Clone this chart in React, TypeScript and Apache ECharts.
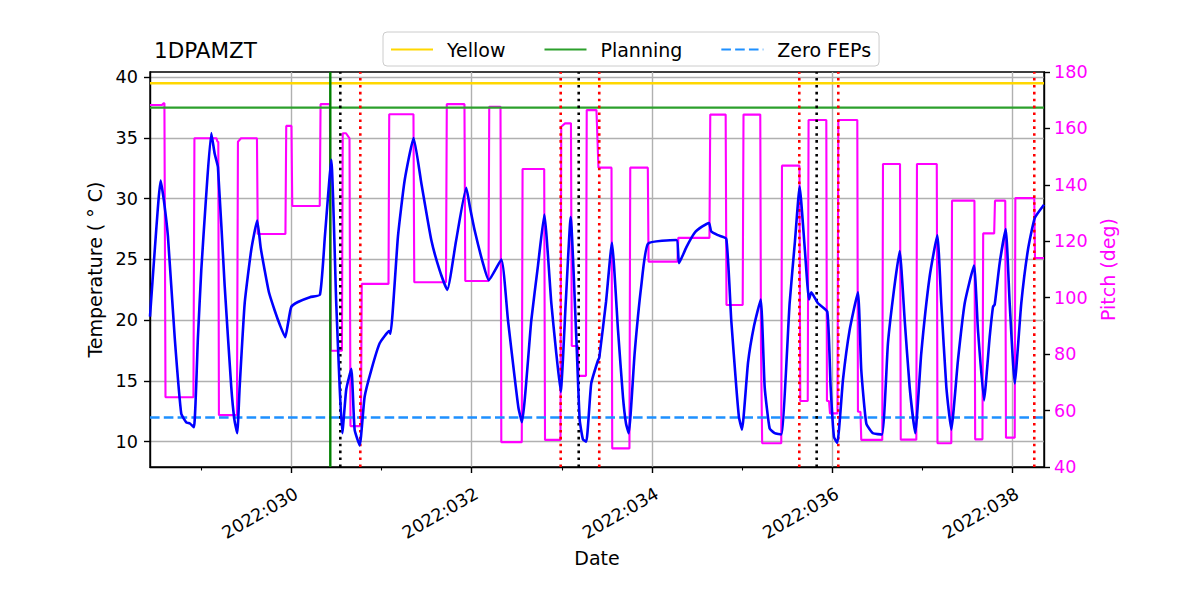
import React, { useEffect, useRef } from "react";
import * as echarts from "echarts";

// ---- data (day of year 2022) ----
const TEMP_DAYS = [
  28.430, 28.485, 28.548, 28.585, 28.629, 28.704, 28.777, 28.832, 28.873, 28.918,
  28.962, 28.999, 29.051, 29.110, 29.148, 29.184, 29.259, 29.332, 29.367, 29.398,
  29.425, 29.481, 29.554, 29.620, 29.658, 29.703, 29.750, 29.814, 29.872, 29.931,
  29.961, 29.998, 30.072, 30.205, 30.316, 30.372, 30.442, 30.497, 30.535, 30.564,
  30.608, 30.664, 30.701, 30.757, 30.812, 30.886, 30.979, 31.085, 31.099, 31.182,
  31.256, 31.356, 31.441, 31.552, 31.645, 31.729, 31.826, 31.940, 31.981, 32.033,
  32.125, 32.189, 32.329, 32.403, 32.477, 32.519, 32.558, 32.662, 32.736, 32.806,
  32.884, 32.936, 32.988, 33.043, 33.099, 33.161, 33.199, 33.235, 33.272, 33.327,
  33.402, 33.416, 33.491, 33.557, 33.624, 33.679, 33.713, 33.743, 33.809, 33.882,
  33.957, 34.271, 34.301, 34.382, 34.475, 34.556, 34.634, 34.659, 34.734, 34.826,
  34.881, 34.937, 34.967, 35.000, 35.067, 35.133, 35.208, 35.252, 35.307, 35.363,
  35.436, 35.529, 35.588, 35.640, 35.696, 35.744, 35.769, 35.843, 35.947, 35.984,
  36.021, 36.058, 36.121, 36.195, 36.287, 36.324, 36.380, 36.454, 36.554, 36.620,
  36.687, 36.750, 36.806, 36.861, 36.923, 36.990, 37.083, 37.168, 37.212, 37.268,
  37.323, 37.397, 37.472, 37.575, 37.619, 37.686, 37.749, 37.786, 37.805, 37.860,
  37.927, 37.971, 38.027, 38.100, 38.174, 38.249, 38.352,
];
const TEMP_VALUES = [
  20.3, 26.0, 31.5, 29.8, 26.9, 18.6, 12.3, 11.6, 11.5, 11.2,
  18.6, 24.1, 30.0, 35.4, 33.7, 32.6, 22.8, 14.5, 11.8, 10.7,
  14.5, 21.4, 25.8, 28.2, 26.0, 24.1, 22.3, 20.8, 19.6, 18.6,
  19.7, 21.1, 21.5, 21.9, 22.1, 27.0, 33.2, 21.4, 14.5, 10.7,
  14.3, 16.0, 11.0, 9.7, 13.7, 15.9, 18.1, 19.1, 18.9, 26.9,
  31.5, 35.0, 31.3, 26.6, 24.1, 22.5, 26.5, 30.9, 29.3, 27.4,
  24.7, 23.3, 25.0, 20.0, 15.3, 12.8, 11.6, 20.0, 24.5, 28.7,
  21.4, 17.5, 14.1, 21.3, 28.5, 18.6, 11.8, 10.2, 10.0, 14.8,
  16.7, 16.9, 21.5, 26.4, 19.2, 13.7, 11.5, 10.7, 17.3, 22.8,
  26.3, 26.6, 24.7, 26.0, 27.2, 27.7, 28.0, 27.3, 27.0, 26.7,
  20.0, 14.5, 12.0, 11.0, 16.5, 19.5, 21.7, 14.5, 11.1, 10.7,
  10.6, 21.4, 26.5, 31.0, 26.0, 21.7, 22.3, 21.4, 20.7, 14.5,
  10.4, 9.9, 15.1, 19.2, 22.3, 15.9, 11.5, 10.7, 10.6, 18.1,
  22.5, 25.7, 20.0, 14.5, 10.7, 17.3, 23.6, 27.0, 21.4, 14.5,
  11.0, 16.7, 21.4, 24.5, 19.2, 13.4, 18.6, 21.1, 21.3, 24.7,
  27.5, 21.4, 14.8, 21.4, 25.8, 28.4, 29.5,
];

const PITCH_DAYS = [
  28.430, 28.563, 28.579, 28.590, 28.602, 28.912, 28.923, 29.168, 29.179, 29.188,
  29.195, 29.395, 29.406, 29.440, 29.617, 29.626, 29.933, 29.942, 30.000, 30.009,
  30.314, 30.323, 30.427, 30.436, 30.560, 30.569, 30.605, 30.644, 30.655, 30.771,
  30.780, 31.077, 31.085, 31.354, 31.363, 31.715, 31.724, 31.920, 31.929, 32.187,
  32.195, 32.320, 32.329, 32.556, 32.565, 32.805, 32.814, 32.986, 32.994, 33.036,
  33.102, 33.111, 33.180, 33.186, 33.269, 33.277, 33.385, 33.407, 33.552, 33.560,
  33.751, 33.760, 33.955, 33.963, 34.284, 34.293, 34.639, 34.648, 34.819, 34.828,
  35.008, 35.017, 35.203, 35.211, 35.224, 35.436, 35.444, 35.638, 35.647, 35.730,
  35.739, 35.936, 35.943, 35.966, 35.977, 36.060, 36.069, 36.280, 36.287, 36.315,
  36.324, 36.557, 36.565, 36.754, 36.762, 36.935, 36.942, 37.162, 37.170, 37.323,
  37.331, 37.580, 37.588, 37.669, 37.677, 37.799, 37.808, 37.922, 37.930, 38.027,
  38.034, 38.244, 38.252, 38.352,
];
const PITCH_VALUES = [
  168.3, 168.3, 168.9, 168.9, 64.7, 64.7, 156.5, 156.5, 155.3, 155.3,
  58.4, 58.4, 155.3, 156.5, 156.5, 122.6, 122.6, 160.9, 160.9, 132.5,
  132.5, 168.6, 168.6, 81.2, 81.2, 158.3, 158.3, 156.5, 54.5, 54.5,
  104.9, 104.9, 165.0, 165.0, 105.5, 105.5, 168.6, 168.6, 105.9, 105.9,
  167.7, 167.7, 48.8, 48.8, 145.6, 145.6, 49.6, 49.6, 160.6, 161.8,
  161.8, 82.9, 82.9, 72.3, 72.3, 166.5, 166.5, 146.1, 146.1, 46.6,
  46.6, 146.1, 146.1, 112.8, 112.8, 121.2, 121.2, 164.9, 164.9, 97.4,
  97.4, 164.9, 164.9, 82.6, 48.4, 48.4, 146.8, 146.8, 63.4, 63.4,
  163.0, 163.0, 63.4, 63.4, 59.0, 59.0, 163.0, 163.0, 59.6, 59.6,
  49.6, 49.6, 147.4, 147.4, 49.7, 49.7, 147.4, 147.4, 48.4, 48.4,
  134.4, 134.4, 49.8, 49.8, 122.8, 122.8, 134.4, 134.4, 50.4, 50.4,
  135.3, 135.3, 114.1, 114.1,
];

const LIMIT_NAMES = ["Yellow", "Planning", "Zero FEPs"];
const LIMIT_VALUES = [39.5, 37.5, 12.0];

const PLANNING_DAY = 30.431;
const BLACK_DAYS = [30.542, 33.188, 35.829];
const RED_DAYS = [30.764, 32.988, 33.416, 35.636, 36.069, 38.244];

const X_MIN = 28.43;
const X_MAX = 38.352;
const X_TICKS = [30, 32, 34, 36, 38];
const X_MINOR_TICKS = [29, 31, 33, 35, 37];
const TEMP_MIN = 7.92;
const TEMP_MAX = 40.43;
const TEMP_TICKS = [10, 15, 20, 25, 30, 35, 40];
const PITCH_MIN = 40;
const PITCH_MAX = 180;
const PITCH_STEP = 20;

const FONT = "DejaVu Sans";
const FS_NUM = 17.6; // tick numbers
const FS_WORD = 19; // words (legend, axis names)

export default function App() {
  const ref = useRef<HTMLDivElement>(null);

  useEffect(() => {
    if (!ref.current) return;
    const chart = echarts.init(ref.current, null, { renderer: "svg" });

    const limitStyles = [
      { color: "#FFD700", type: "solid" },
      { color: "#2ca02c", type: "solid" },
      { color: "#1E90FF", type: [9.6, 4.2] },
    ];

    const limitSeries = LIMIT_NAMES.map((name, i) => ({
      name,
      type: "line",
      xAxisIndex: 0,
      yAxisIndex: 0,
      symbol: "none",
      silent: true,
      z: 3,
      lineStyle: { color: limitStyles[i].color, width: 2.4, type: limitStyles[i].type },
      itemStyle: { color: limitStyles[i].color, opacity: 0 },
      data: [
        [X_MIN, LIMIT_VALUES[i]],
        [X_MAX, LIMIT_VALUES[i]],
      ],
    }));

    const vline = (day: number, color: string, type: any, width: number, id: string) => ({
      name: id,
      type: "line",
      xAxisIndex: 0,
      yAxisIndex: 0,
      symbol: "none",
      silent: true,
      z: 4,
      lineStyle: { color, width, type },
      data: [
        [day, TEMP_MIN],
        [day, TEMP_MAX],
      ],
    });

    const vlines = [
      vline(PLANNING_DAY, "#008000", "solid", 2.4, "planning-time"),
      ...BLACK_DAYS.map((d, i) => vline(d, "#000000", [2.6, 4.3], 2.6, "black-" + i)),
      ...RED_DAYS.map((d, i) => vline(d, "#FF0000", [2.6, 4.3], 2.6, "red-" + i)),
    ];

    const option: any = {
      animation: false,
      backgroundColor: "#ffffff",
      textStyle: { fontFamily: FONT },
      title: {
        text: "1DPAMZT",
        left: 149,
        top: 34,
        textStyle: { fontFamily: FONT, fontSize: 21.5, fontWeight: "normal", color: "#000" },
      },
      legend: {
        data: LIMIT_NAMES,
        left: 383,
        top: 32,
        orient: "horizontal",
        itemWidth: 42,
        itemHeight: 14,
        itemGap: 38,
        padding: [8, 8, 7, 7],
        borderColor: "#cccccc",
        borderWidth: 1,
        borderRadius: 4,
        backgroundColor: "rgba(255,255,255,0.8)",
        selectedMode: false,
        itemStyle: { opacity: 0 },
        textStyle: { fontFamily: FONT, fontSize: FS_WORD, color: "#000", padding: [0, 0, 0, 9] },
      },
      grid: {
        left: 150,
        right: 156,
        top: 72,
        bottom: 133,
        show: true,
        borderColor: "#000",
        borderWidth: 1.4,
        backgroundColor: "transparent",
        containLabel: false,
      },
      xAxis: [
        {
          type: "value",
          min: X_MIN,
          max: X_MAX,
          position: "bottom",
          name: "Date",
          nameLocation: "middle",
          nameGap: 81,
          nameMoveOverlap: false,
          nameTextStyle: { fontFamily: FONT, fontSize: FS_WORD, color: "#000" },
          axisLine: { show: true, lineStyle: { color: "#000", width: 1.4 } },
          axisTick: { show: true, length: 6, customValues: X_TICKS, lineStyle: { color: "#000", width: 1.4 } },
          axisLabel: {
            customValues: X_TICKS,
            rotate: 30,
            margin: 16.5,
            verticalAlign: "top",
            fontFamily: FONT,
            fontSize: FS_NUM,
            color: "#000",
            formatter: (v: number) => "{d|2022:" + String(Math.round(v)).padStart(3, "0") + "}",
            rich: {
              d: { fontFamily: FONT, fontSize: FS_NUM, lineHeight: 20, color: "#000" },
            },
          },
          splitLine: { show: true, lineStyle: { color: "#b0b0b0", width: 1.4 } },
        },
        {
          type: "value",
          min: X_MIN,
          max: X_MAX,
          position: "top",
          offset: -395,
          axisLine: { show: false },
          axisTick: { show: true, inside: true, length: 3.5, customValues: X_MINOR_TICKS, lineStyle: { color: "#000", width: 1.1 } },
          axisLabel: { show: false },
          splitLine: { show: false },
        },
      ],
      yAxis: [
        {
          type: "value",
          min: TEMP_MIN,
          max: TEMP_MAX,
          position: "left",
          name: "Temperature ( ° C)",
          nameLocation: "middle",
          nameGap: 46,
          nameTextStyle: { fontFamily: FONT, fontSize: FS_WORD, color: "#000" },
          axisLine: { show: true, lineStyle: { color: "#000", width: 1.4 } },
          axisTick: { show: true, length: 6, customValues: TEMP_TICKS, lineStyle: { color: "#000", width: 1.4 } },
          axisLabel: { customValues: TEMP_TICKS, margin: 12, fontFamily: FONT, fontSize: FS_NUM, color: "#000" },
          splitLine: { show: true, lineStyle: { color: "#b0b0b0", width: 1.4 } },
        },
        {
          type: "value",
          min: PITCH_MIN,
          max: PITCH_MAX,
          interval: PITCH_STEP,
          position: "right",
          name: "Pitch (deg)",
          nameLocation: "middle",
          nameGap: 52,
          nameRotate: 90,
          nameTextStyle: { fontFamily: FONT, fontSize: FS_WORD, color: "#FF00FF" },
          axisLine: { show: true, lineStyle: { color: "#000", width: 1.4 } },
          axisTick: { show: true, length: 6, lineStyle: { color: "#000", width: 1.4 } },
          axisLabel: { margin: 10, fontFamily: FONT, fontSize: FS_NUM, color: "#FF00FF" },
          splitLine: { show: false },
        },
      ],
      series: [
        {
          name: "Pitch",
          type: "line",
          xAxisIndex: 0,
          yAxisIndex: 1,
          symbol: "none",
          silent: true,
          z: 2,
          lineStyle: { color: "#FF00FF", width: 2.1 },
          data: PITCH_DAYS.map((d, i) => [d, PITCH_VALUES[i]]),
        },
        ...limitSeries,
        ...vlines,
        {
          name: "1DPAMZT",
          type: "line",
          xAxisIndex: 0,
          yAxisIndex: 0,
          symbol: "none",
          silent: true,
          smooth: 0.15,
          z: 5,
          lineStyle: { color: "#0000FF", width: 2.6 },
          data: TEMP_DAYS.map((d, i) => [d, TEMP_VALUES[i]]),
        },
      ],
    };

    chart.setOption(option);
    return () => chart.dispose();
  }, []);

  return (
    <div
      ref={ref}
      style={{ position: "absolute", left: 0, top: 0, width: 1200, height: 600, background: "#fff" }}
    />
  );
}
